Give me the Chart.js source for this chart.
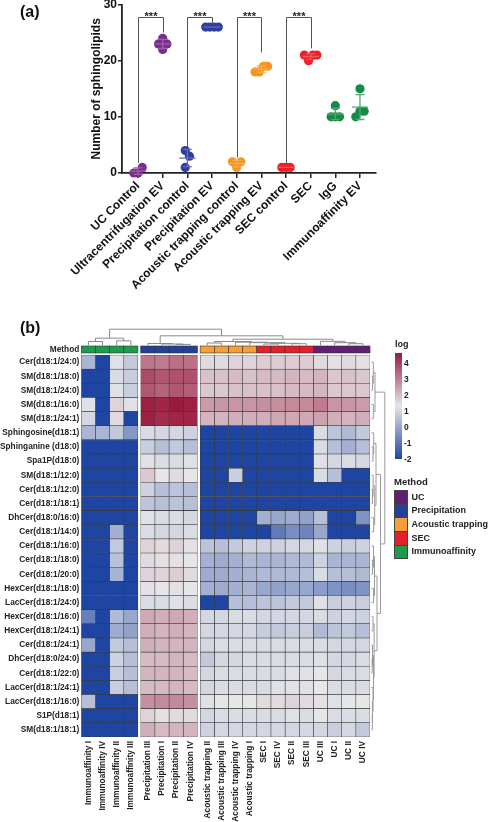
<!DOCTYPE html>
<html><head><meta charset="utf-8">
<script src="https://cdn.jsdelivr.net/npm/chart.js@4.4.1/dist/chart.umd.min.js"></script>
<style>
html,body{margin:0;padding:0;background:#fff;}
body{width:490px;height:822px;position:relative;overflow:hidden;font-family:"Liberation Sans",Arial,Helvetica,sans-serif;color:#111;}
.abs{position:absolute;white-space:nowrap;}
canvas{position:absolute;left:0;}
</style></head><body>
<canvas id="cA" width="490" height="312" style="top:0"></canvas>
<canvas id="cB" width="490" height="510" style="top:312px"></canvas>
<div class="abs" style="left:20px;top:4px;font:bold 16px/16px 'Liberation Sans',Arial;">(a)</div>
<div class="abs" style="left:20px;top:320px;font:bold 16px/16px 'Liberation Sans',Arial;">(b)</div>
<div id="legend"></div>
<script>
// ================= DATA: panel (a) =================
const groupLabels = ['UC Control','Ultracentrifugation EV','Precipitation control','Precipitation EV',
  'Acoustic trapping control','Acoustic trapping EV','SEC control','SEC','IgG','Immunoaffinity EV'];
const ucControl = [0, 1, 0];
const ucEV = [24, 22, 23, 23];
const precipControl = [4, 1, 3];
const precipEV = [26, 26, 26, 26];
const acousticControl = [1, 2, 2];
const acousticEV = [18, 19, 18, 19];
const secControl = [1, 1, 1];
const secEV = [20, 21, 21, 21];
const iggValues = [12, 10, 10, 10];
const immunoEV = [15, 11, 11, 10];
const groupValues = [ucControl, ucEV, precipControl, precipEV, acousticControl, acousticEV, secControl, secEV, iggValues, immunoEV];
const yTicksA = [0, 10, 20, 30];
// significance brackets: group pair, leg end values, top value
const sigBrackets = [
  {from:0, to:1, leftEnd:1.8, rightEnd:25.0, top:27.8, label:'***'},
  {from:2, to:3, leftEnd:4.6, rightEnd:26.6, top:27.8, label:'***'},
  {from:4, to:5, leftEnd:2.8, rightEnd:21.5, top:27.8, label:'***'},
  {from:6, to:7, leftEnd:1.8, rightEnd:22.2, top:27.8, label:'***'}
];

// ================= DATA: panel (b) =================
const rowLabels = ['Cer(d18:1/24:0)','SM(d18:1/18:0)','SM(d18:1/24:0)','SM(d18:1/16:0)','SM(d18:1/24:1)',
  'Sphingosine(d18:1)','Sphinganine (d18:0)','Spa1P(d18:0)','SM(d18:1/12:0)','Cer(d18:1/12:0)','Cer(d18:1/18:1)',
  'DhCer(d18:0/16:0)','Cer(d18:1/14:0)','Cer(d18:1/16:0)','Cer(d18:1/18:0)','Cer(d18:1/20:0)','HexCer(d18:1/18:0)',
  'LacCer(d18:1/24:0)','HexCer(d18:1/16:0)','HexCer(d18:1/24:1)','Cer(d18:1/24:1)','DhCer(d18:0/24:0)',
  'Cer(d18:1/22:0)','LacCer(d18:1/24:1)','LacCer(d18:1/16:0)','S1P(d18:1)','SM(d18:1/18:1)'];
const immunoCols = ['Immunoaffinity I','Immunoaffinity IV','Immunoaffinity II','Immunoaffinity III'];
const precipCols = ['Precipitation III','Precipitation I','Precipitation II','Precipitation IV'];
const acousticCols = ['Acoustic trapping II','Acoustic trapping III','Acoustic trapping IV','Acoustic trapping I'];
const secCols = ['SEC I','SEC IV','SEC II','SEC III'];
const ucCols = ['UC III','UC I','UC II','UC IV'];
const methodNames = ['UC','Precipitation','Acoustic trapping','SEC','Immunoaffinity'];
const logTicks = [4, 3, 2, 1, 0, -1, -2];

const immunoLog = [
 [0.3,-2,1.2,0.7],[-2,-2,1.1,0.8],[-2,-2,1.2,0.8],[1.2,-2,1.6,1.2],[1.0,-2,1.5,-2],
 [0.3,0.3,0.7,-0.3],[-2,-2,-2,-2],[-2,-2,-2,-2],[-2,-2,-2,-2],[-2,-2,-2,-2],[-2,-2,-2,-2],
 [-2,-2,-2,-2],[-2,-2,0.2,-2],[-2,-2,0.7,-2],[-2,-2,0.55,-2],[-2,-2,0.25,-2],[-2,-2,-2,-2],
 [-2,-2,-2,-2],[-0.8,-2,0.4,0.0],[-2,-2,0.1,-0.1],[0.0,-2,0.7,0.5],[-2,-2,0.9,0.5],
 [-2,-2,0.8,0.5],[-2,-2,0.8,0.5],[0.5,-2,-2,-2],[-2,-2,-2,-2],[-2,-2,-2,-2]];
const precipLog = [
 [3.1,3.0,3.2,3.2],[3.8,3.6,3.7,3.7],[3.6,3.4,3.6,3.5],[4.5,4.4,4.6,4.5],[4.5,4.3,4.4,4.4],
 [1.1,1.0,1.0,0.9],[0.8,0.5,0.7,0.5],[1.2,1.1,1.1,1.2],[1.8,1.3,1.5,1.3],[0.9,0.5,0.6,0.5],[0.6,0.5,0.6,0.5],
 [1.2,1.1,1.1,1.0],[1.1,1.0,1.0,1.1],[1.6,1.5,1.6,1.4],[1.5,1.4,1.4,1.3],[1.6,1.6,1.7,1.5],[1.4,1.3,1.4,1.3],
 [1.1,1.1,1.2,1.1],[2.3,2.2,2.3,2.2],[2.2,2.1,2.2,2.1],[2.2,2.1,2.1,2.1],[2.0,2.0,2.1,2.0],
 [2.1,2.1,2.1,2.0],[2.0,2.0,2.1,2.0],[2.7,2.8,2.8,2.7],[1.6,1.4,1.5,1.5],[2.2,2.0,2.1,2.1]];
const acousticLog = [
 [1.5,1.5,1.6,1.6],[1.9,1.9,2.0,1.9],[1.8,1.8,1.9,1.9],[2.5,2.6,2.6,2.6],[2.1,2.1,2.2,2.2],
 [-2,-2,-2,-2],[-2,-2,-2,-2],[-2,-2,-2,-2],[-2,-2,0.8,-2],[-2,-2,-2,-2],[-2,-2,-2,-2],
 [-2,-2,-2,-2],[-2,-2,-2,-2],[0.6,0.5,0.7,0.9],[0.2,0.1,0.2,0.4],[0.1,0.1,0.2,0.3],[0.2,0.1,0.2,0.3],
 [-2,-2,0.5,0.5],[1.0,1.0,1.1,1.1],[1.0,1.0,1.0,1.0],[1.0,1.1,1.1,1.1],[0.7,1.0,1.0,1.1],
 [1.0,1.1,1.1,1.1],[1.0,1.1,1.1,1.1],[1.2,1.3,1.3,1.3],[1.0,1.1,1.1,1.1],[0.9,1.0,1.0,1.0]];
const secLog = [
 [1.7,1.7,1.7,1.7],[2.0,2.0,2.1,2.0],[1.9,1.9,2.0,2.0],[2.7,2.7,2.8,2.8],[2.2,2.3,2.3,2.3],
 [-2,-2,-2,-2],[-2,-2,-2,-2],[-2,-2,-2,-2],[-2,-2,-2,-2],[-2,-2,-2,-2],[-2,-2,-2,-2],
 [0.2,0.0,0.1,-0.1],[-2,-0.9,-0.5,-0.7],[0.9,0.9,1.0,1.0],[0.3,0.3,0.4,0.4],[0.4,0.4,0.4,0.5],[0.0,-0.1,0.0,0.0],
 [0.6,0.6,0.7,0.7],[1.0,1.0,1.0,1.0],[0.8,0.7,0.8,0.8],[1.1,1.1,1.1,1.1],[1.1,1.1,1.1,1.1],
 [1.1,1.1,1.2,1.2],[1.1,1.2,1.2,1.2],[1.5,1.5,1.6,1.5],[1.1,1.1,1.2,1.1],[1.0,1.0,1.0,1.0]];
const ucLog = [
 [1.5,1.4,1.5,1.4],[2.1,1.8,1.9,1.8],[2.1,1.8,1.8,1.8],[3.0,2.6,2.6,2.5],[2.4,2.2,2.1,2.2],
 [1.1,0.6,0.4,0.7],[1.1,0.5,0.2,0.5],[1.2,1.0,1.1,1.0],[1.1,0.5,-2,-2],[-2,-2,-2,-2],[-2,-2,-2,-2],
 [0.5,-2,-2,-0.4],[0.0,-2,-2,-2],[1.2,0.9,0.8,0.9],[0.9,0.3,0.3,0.3],[1.1,0.5,0.5,0.4],[-0.2,-0.4,-0.5,-0.4],
 [1.2,0.8,0.9,0.8],[1.1,0.9,1.0,0.9],[0.4,0.6,0.7,0.5],[1.1,1.0,1.0,1.0],[1.2,1.0,1.0,1.1],
 [1.3,1.0,1.1,1.1],[1.3,1.1,1.1,1.1],[1.4,1.2,1.3,1.3],[1.3,1.1,1.1,1.1],[1.0,0.8,1.0,0.7]];

// dendrograms (leaf = column/row index; h = merge height)
function N(h, a, b){ return {h:h, c:[a,b]}; }
const colTree = N(16.3,
  N(7.3, N(4, 0, 1), N(4.7, 2, 3)),
  N(9.7,
    N(2, 4, N(1.5, 5, N(1.1, 6, 7))),
    N(6.3,
      N(4, N(2.5, 8, 9), N(3.3, 10, N(2.8, 11, N(2.2, N(1.5, 12, 13), N(1.8, 14, 15))))),
      N(4.2, 16, N(2.8, 17, N(1.8, 18, 19))))));
const rowTree = N(13.3,
  N(3.5, N(1.8, 0, N(1.1, 1, 2)), N(1.8, 3, 4)),
  N(9,
    N(4.5, N(2.2, 5, N(1.5, 6, 7)), N(3.2, N(1.6, 8, N(1, 9, 10)), N(2.2, 11, 12))),
    N(5.5, N(3, N(2, 13, N(1.1, 14, 15)), N(2.1, 16, 17)),
      N(2.6, N(1.5, 18, 19), N(2, N(1, 20, N(0.6, 21, 22)), N(1.5, 23, N(1, 24, N(0.8, 25, 26))))))));

// ================= STYLE =================
const groupColors = ['#7B2C8E','#7B2C8E','#2F3DA0','#2F3DA0','#F7941E','#F7941E','#EE2027','#EE2027','#168B47','#168B47'];
const methodColors = ['#5F1F72','#23409A','#F79E38','#E3212B','#1E9A4B'];
const colMethod = [4,4,4,4,1,1,1,1,2,2,2,2,3,3,3,3,0,0,0,0];
const heatMin = -2, heatMid = 1.3, heatMax = 4.6;
const cLow = [31,69,163], cMidC = [230,230,232], cHigh = [155,25,62];
function heat(v){
  let a, b, t;
  if (v <= heatMid){ a = cLow; b = cMidC; t = (v - heatMin)/(heatMid - heatMin); }
  else { a = cMidC; b = cHigh; t = (v - heatMid)/(heatMax - heatMid); }
  t = Math.max(0, Math.min(1, t));
  return 'rgb(' + a.map((c,k)=>Math.round(c + (b[k]-c)*t)).join(',') + ')';
}
function tint(hex, f){
  const n = parseInt(hex.slice(1),16); const r=(n>>16)&255, g=(n>>8)&255, b=n&255;
  return 'rgb('+[r,g,b].map(c=>Math.round(c+(255-c)*f)).join(',')+')';
}

Chart.defaults.font.family = "'Liberation Sans', Arial, Helvetica, sans-serif";
Chart.defaults.color = '#111';
Chart.defaults.animation = false;

// ================= PANEL (a) =================
const swarmStep = 0.17, pxPerY = 169/30, overlapPx = 8.5;
function swarm(vals){
  const placed = [];
  vals.forEach(v => {
    for (let k = 0; k < 40; k++){
      const s = k === 0 ? 0 : (k % 2 ? (k+1)/2 : -k/2);
      const busy = placed.some(p => p.s === s && Math.abs(p.v - v)*pxPerY < overlapPx);
      if (!busy){ placed.push({s:s, v:v}); break; }
    }
  });
  const ss = placed.map(p=>p.s); const mid = (Math.min(...ss)+Math.max(...ss))/2;
  return placed.map(p => ({x:(p.s-mid)*swarmStep, y:p.v}));
}
function meanSd(a){
  const m = a.reduce((s,v)=>s+v,0)/a.length;
  const sd = a.length>1 ? Math.sqrt(a.reduce((s,v)=>s+(v-m)*(v-m),0)/(a.length-1)) : 0;
  return {m:m, sd:sd};
}
const errorBarPlugin = {
  id:'errbars',
  afterDatasetsDraw(chart){
    const {ctx, scales:{x, y}} = chart;
    ctx.save();
    groupValues.forEach((vals, i) => {
      const {m, sd} = meanSd(vals);
      ctx.strokeStyle = tint(groupColors[i], 0.25); ctx.lineWidth = 1.3;
      ctx.beginPath();
      ctx.moveTo(x.getPixelForValue(i-0.33), y.getPixelForValue(m));
      ctx.lineTo(x.getPixelForValue(i+0.33), y.getPixelForValue(m));
      if (sd > 0){
        ctx.moveTo(x.getPixelForValue(i), y.getPixelForValue(m-sd));
        ctx.lineTo(x.getPixelForValue(i), y.getPixelForValue(m+sd));
        [m-sd, m+sd].forEach(v => {
          ctx.moveTo(x.getPixelForValue(i-0.18), y.getPixelForValue(v));
          ctx.lineTo(x.getPixelForValue(i+0.18), y.getPixelForValue(v));
        });
      }
      ctx.stroke();
    });
    // significance brackets
    ctx.strokeStyle = '#555'; ctx.lineWidth = 1;
    ctx.fillStyle = '#222'; ctx.font = "bold 11px 'Liberation Sans', Arial";
    ctx.textAlign = 'center'; ctx.textBaseline = 'alphabetic';
    sigBrackets.forEach(b => {
      const x1 = Math.round(x.getPixelForValue(b.from))+0.5, x2 = Math.round(x.getPixelForValue(b.to))+0.5;
      const yt = Math.round(y.getPixelForValue(b.top))+0.5;
      ctx.beginPath();
      ctx.moveTo(x1, y.getPixelForValue(b.leftEnd)); ctx.lineTo(x1, yt);
      ctx.lineTo(x2, yt); ctx.lineTo(x2, y.getPixelForValue(b.rightEnd));
      ctx.stroke();
      ctx.fillText(b.label, (x1+x2)/2, yt + 2.5);
    });
    ctx.restore();
  }
};
new Chart(document.getElementById('cA'), {
  type:'scatter',
  data:{ datasets: groupValues.map((vals, i) => ({
    data: swarm(vals).map(p => ({x: i + p.x, y: p.y})),
    backgroundColor: groupColors[i], pointRadius: 4.6, pointHoverRadius: 4.6, pointBorderWidth: 0, clip: false
  })) },
  options:{
    responsive:false, animation:false,
    layout:{ padding:{ left:82, right:114, top:4, bottom:0 } },
    plugins:{ legend:{display:false}, tooltip:{enabled:false} },
    scales:{
      x:{ type:'linear', min:-0.65, max:9.65,
        afterBuildTicks: s => { s.ticks = groupLabels.map((_, i) => ({value:i})); },
        ticks:{ autoSkip:false, minRotation:45, maxRotation:45, padding:1, color:'#111',
          font:{size:12, weight:'bold'}, callback:(v, i) => groupLabels[i] },
        grid:{ display:true, drawOnChartArea:false, drawTicks:true, tickLength:5, color:'#222', lineWidth:1.5 },
        border:{ display:true, color:'#222', width:1.8 },
        afterFit: s => { s.height = 139; s.paddingLeft = 0; s.paddingRight = 0; }
      },
      y:{ type:'linear', min:0, max:30,
        afterBuildTicks: s => { s.ticks = yTicksA.map(v => ({value:v})); },
        ticks:{ padding:1, color:'#111', font:{size:12, weight:'bold'} },
        grid:{ display:true, drawOnChartArea:false, drawTicks:true, tickLength:4, color:'#222', lineWidth:1.5 },
        border:{ display:true, color:'#222', width:1.8 },
        title:{ display:true, text:'Number of sphingolipids', color:'#111', font:{size:12, weight:'bold'}, padding:{top:7.5, bottom:0} },
        afterFit: s => { s.width = 40; s.paddingTop = 0; s.paddingBottom = 0; }
      }
    }
  },
  plugins:[errorBarPlugin]
});

// ================= PANEL (b) =================
const colLabels = [...immunoCols, ...precipCols, ...acousticCols, ...secCols, ...ucCols];
const logMatrix = rowLabels.map((_, i) => [...immunoLog[i], ...precipLog[i], ...acousticLog[i], ...secLog[i], ...ucLog[i]]);
const blockGap = 0.2;
const colStart = colLabels.map((_, j) => j + (j >= 4 ? blockGap : 0) + (j >= 8 ? blockGap : 0));
const xMaxB = colLabels.length + 2*blockGap;

function walkTree(node, leafPos, segs){
  if (typeof node === 'number') return {p: leafPos(node), h: 0};
  const a = walkTree(node.c[0], leafPos, segs), b = walkTree(node.c[1], leafPos, segs);
  segs.push([a, b, node.h]);
  return {p:(a.p+b.p)/2, h:node.h};
}
const heatDecor = {
  id:'heatDecor',
  afterDraw(chart){
    const {ctx, chartArea:ca, scales:{x, y}} = chart;
    ctx.save();
    // method annotation bar
    const annTop = ca.top - 9, annH = 7;
    colLabels.forEach((_, j) => {
      const x0 = x.getPixelForValue(colStart[j]), x1 = x.getPixelForValue(colStart[j]+1);
      ctx.fillStyle = methodColors[colMethod[j]];
      ctx.fillRect(x0, annTop, x1-x0, annH);
      ctx.strokeStyle = '#333'; ctx.lineWidth = 0.6;
      ctx.strokeRect(x0, annTop, x1-x0, annH);
    });
    ctx.fillStyle = '#222'; ctx.font = "bold 8.3px 'Liberation Sans', Arial";
    ctx.textAlign = 'right'; ctx.textBaseline = 'middle';
    ctx.fillText('Method', ca.left - 2, annTop + annH/2);
    // column dendrogram
    ctx.strokeStyle = '#8a8a8a'; ctx.lineWidth = 1;
    let segs = [];
    walkTree(colTree, j => x.getPixelForValue(colStart[j] + 0.5), segs);
    const yOf = h => annTop - 0.5 - h;
    ctx.beginPath();
    segs.forEach(([a, b, h]) => {
      ctx.moveTo(a.p, yOf(a.h)); ctx.lineTo(a.p, yOf(h)); ctx.lineTo(b.p, yOf(h)); ctx.lineTo(b.p, yOf(b.h));
    });
    ctx.stroke();
    // row dendrogram
    segs = [];
    walkTree(rowTree, i => y.getPixelForValue(i), segs);
    const xOf = h => ca.right + 1.5 + h;
    ctx.strokeStyle = '#9a9a9a';
    ctx.beginPath();
    segs.forEach(([a, b, h]) => {
      ctx.moveTo(xOf(a.h), a.p); ctx.lineTo(xOf(h), a.p); ctx.lineTo(xOf(h), b.p); ctx.lineTo(xOf(b.h), b.p);
    });
    ctx.stroke();
    ctx.restore();
  }
};
new Chart(document.getElementById('cB'), {
  type:'bar',
  data:{
    labels: rowLabels,
    datasets: colLabels.map((lab, j) => ({
      label: lab,
      data: rowLabels.map(() => [colStart[j], colStart[j] + 1]),
      backgroundColor: rowLabels.map((_, i) => heat(logMatrix[i][j])),
      borderColor:'#3a3a3a', borderWidth:0.6, borderSkipped:false,
      grouped:false, barPercentage:1, categoryPercentage:1
    }))
  },
  options:{
    indexAxis:'y', responsive:false, animation:false,
    layout:{ padding:{ left:0, right:120, top:43, bottom:0 } },
    plugins:{ legend:{display:false}, tooltip:{enabled:false} },
    scales:{
      x:{ type:'linear', position:'bottom', min:0, max:xMaxB,
        afterBuildTicks: s => { s.ticks = colStart.map(c => ({value: c + 0.5})); },
        ticks:{ autoSkip:false, minRotation:90, maxRotation:90, padding:4, color:'#222',
          font:{size:8.3, weight:'bold'}, callback:(v, i) => colLabels[i] },
        grid:{ display:false, drawTicks:false }, border:{ display:false },
        afterFit: s => { s.height = 85; s.paddingLeft = 0; s.paddingRight = 0; }
      },
      y:{ type:'category',
        ticks:{ autoSkip:false, padding:2, color:'#222', font:{size:8.3, weight:'bold'} },
        grid:{ display:false, drawTicks:false }, border:{ display:false },
        afterFit: s => { s.width = 81.3; s.paddingTop = 0; s.paddingBottom = 0; }
      }
    }
  },
  plugins:[heatDecor]
});

// ================= LEGENDS (HTML) =================
(function(){
  const L = document.getElementById('legend');
  const barTop = 353, barH = 106, barLeft = 395;
  const valToY = v => barTop + (heatMax - v)/(heatMax - heatMin)*barH;
  let stops = [];
  for (let k = 0; k <= 20; k++){ const v = heatMax - (heatMax-heatMin)*k/20; stops.push(heat(v) + ' ' + (k*5) + '%'); }
  let html = '';
  html += `<div class="abs" style="left:${barLeft}px;top:339px;font:bold 9px/10px 'Liberation Sans',Arial;color:#222">log</div>`;
  html += `<div class="abs" style="left:${barLeft}px;top:${barTop}px;width:7px;height:${barH}px;background:linear-gradient(to bottom, ${stops.join(',')})"></div>`;
  logTicks.forEach(v => {
    html += `<div class="abs" style="left:404px;top:${valToY(v)-5}px;font:bold 8.5px/10px 'Liberation Sans',Arial;color:#222">${v}</div>`;
  });
  html += `<div class="abs" style="left:394px;top:476px;font:bold 9.5px/11px 'Liberation Sans',Arial;color:#222">Method</div>`;
  methodNames.forEach((name, k) => {
    const top = 490 + k*13.7;
    html += `<div class="abs" style="left:394px;top:${top}px;width:11.7px;height:12.7px;background:${methodColors[k]};border:0.5px solid #444"></div>`;
    html += `<div class="abs" style="left:411.5px;top:${top+1.5}px;font:bold 9px/11px 'Liberation Sans',Arial;color:#222">${name}</div>`;
  });
  L.innerHTML = html;
})();
</script>
</body></html>
